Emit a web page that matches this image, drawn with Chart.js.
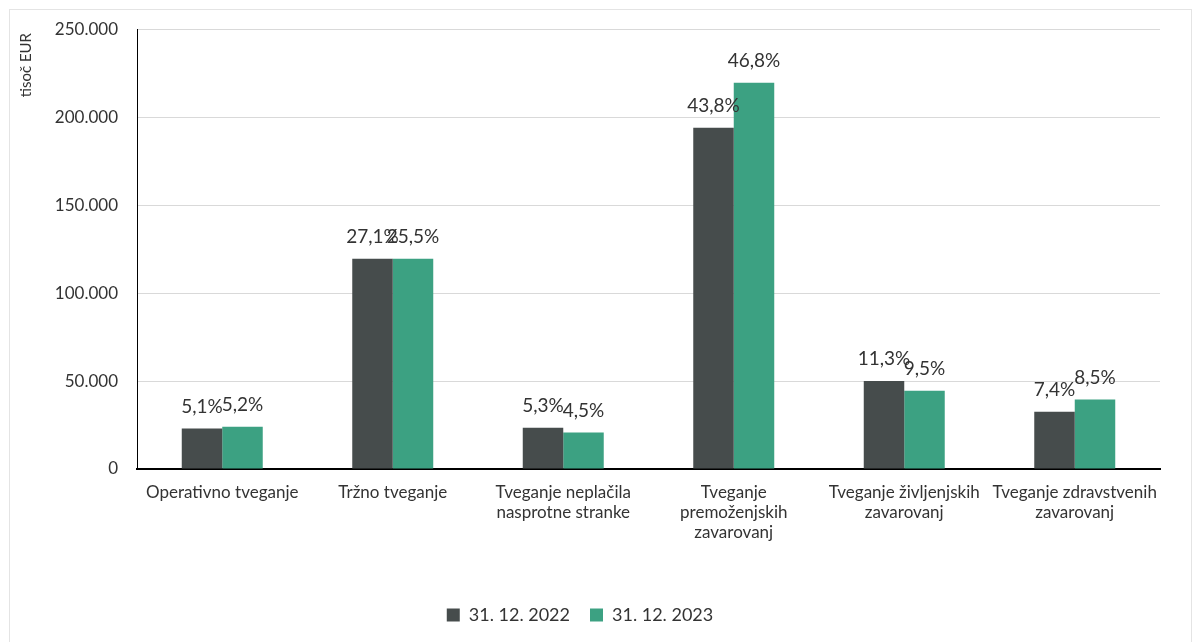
<!DOCTYPE html>
<html>
<head>
<meta charset="utf-8">
<script src="https://cdn.jsdelivr.net/npm/chart.js@4"></script>
<style>
    body { margin: 0; background: #fff; }
    #frame { position: absolute; left: 9px; top: 9px; width: 1181px; height: 660px; border: 1px solid #e4e4e4; }
    #wrap { position: absolute; left: 0; top: 0; width: 1201px; height: 642px; }
</style>
</head>
<body>
<div id="frame"></div>
<div id="wrap"><canvas id="riskChart" width="1201" height="642"></canvas></div>
<script>
// Kapitalske zahteve po vrstah tveganj (tisoč EUR)
const categories = [
    'Operativno tveganje',
    'Tržno tveganje',
    ['Tveganje neplačila', 'nasprotne stranke'],
    ['Tveganje', 'premoženjskih', 'zavarovanj'],
    ['Tveganje življenjskih', 'zavarovanj'],
    ['Tveganje zdravstvenih', 'zavarovanj']
];
const seriesNames = ['31. 12. 2022', '31. 12. 2023'];
const values2022 = [23000, 119500, 23500, 194000, 50000, 32500];
const values2023 = [24000, 119500, 20700, 219500, 44500, 39500];
const shares2022 = ['5,1%', '27,1%', '5,3%', '43,8%', '11,3%', '7,4%'];
const shares2023 = ['5,2%', '25,5%', '4,5%', '46,8%', '9,5%', '8,5%'];
const yTicks = [0, 50000, 100000, 150000, 200000, 250000];
const unitLabel = 'tisoč EUR';

const FONT = 'Lato, "Open Sans", sans-serif';
const TEXT = '#333333';

// Draws the share labels above each bar and the unit label at the top left
const shareLabels = {
    id: 'shareLabels',
    afterDatasetsDraw(chart) {
        const ctx = chart.ctx;
        const lists = [shares2022, shares2023];
        ctx.save();
        ctx.font = '19px ' + FONT;
        ctx.fillStyle = TEXT;
        ctx.textAlign = 'center';
        ctx.textBaseline = 'middle';
        chart.data.datasets.forEach((ds, i) => {
            chart.getDatasetMeta(i).data.forEach((bar, j) => {
                ctx.fillText(lists[i][j], bar.x, bar.y - 22);
            });
        });

        // unit label, rotated, starting near the top of the y axis
        ctx.translate(26, 33);
        ctx.rotate(-Math.PI / 2);
        ctx.font = '15px ' + FONT;
        ctx.textAlign = 'right';
        ctx.fillText(unitLabel, 0, 0);
        ctx.restore();
    }
};

new Chart(document.getElementById('riskChart'), {
    type: 'bar',
    data: {
        labels: categories,
        datasets: [
            {
                label: seriesNames[0],
                data: values2022,
                backgroundColor: '#464c4c',
                categoryPercentage: 0.475,
                barPercentage: 1
            },
            {
                label: seriesNames[1],
                data: values2023,
                backgroundColor: '#3ca182',
                categoryPercentage: 0.475,
                barPercentage: 1
            }
        ]
    },
    options: {
        responsive: false,
        animation: false,
        layout: {
            padding: { top: 22, right: 41, bottom: 8, left: 0 }
        },
        plugins: {
            legend: {
                position: 'bottom',
                labels: {
                    font: { family: FONT, size: 18 },
                    color: TEXT,
                    boxWidth: 13,
                    boxHeight: 13,
                    padding: 20
                }
            },
            tooltip: { enabled: false }
        },
        scales: {
            x: {
                grid: { display: false, drawTicks: false },
                border: { display: true, color: '#000', width: 2 },
                ticks: {
                    font: { family: FONT, size: 17 },
                    color: TEXT,
                    padding: 13,
                    maxRotation: 0,
                    autoSkip: false
                },
                afterFit: (scale) => { scale.height = 117; }
            },
            y: {
                min: 0,
                max: 250000,
                afterBuildTicks: (scale) => {
                    scale.ticks = yTicks.map(v => ({ value: v }));
                },
                afterFit: (scale) => { scale.width = 137; },
                grid: { color: '#d9d9d9', drawTicks: false },
                border: { display: true, color: '#000', width: 1 },
                ticks: {
                    font: { family: FONT, size: 17 },
                    color: TEXT,
                    padding: 19,
                    callback: (v) => v.toLocaleString('de-DE')
                }
            }
        }
    },
    plugins: [shareLabels]
});
</script>
</body>
</html>
